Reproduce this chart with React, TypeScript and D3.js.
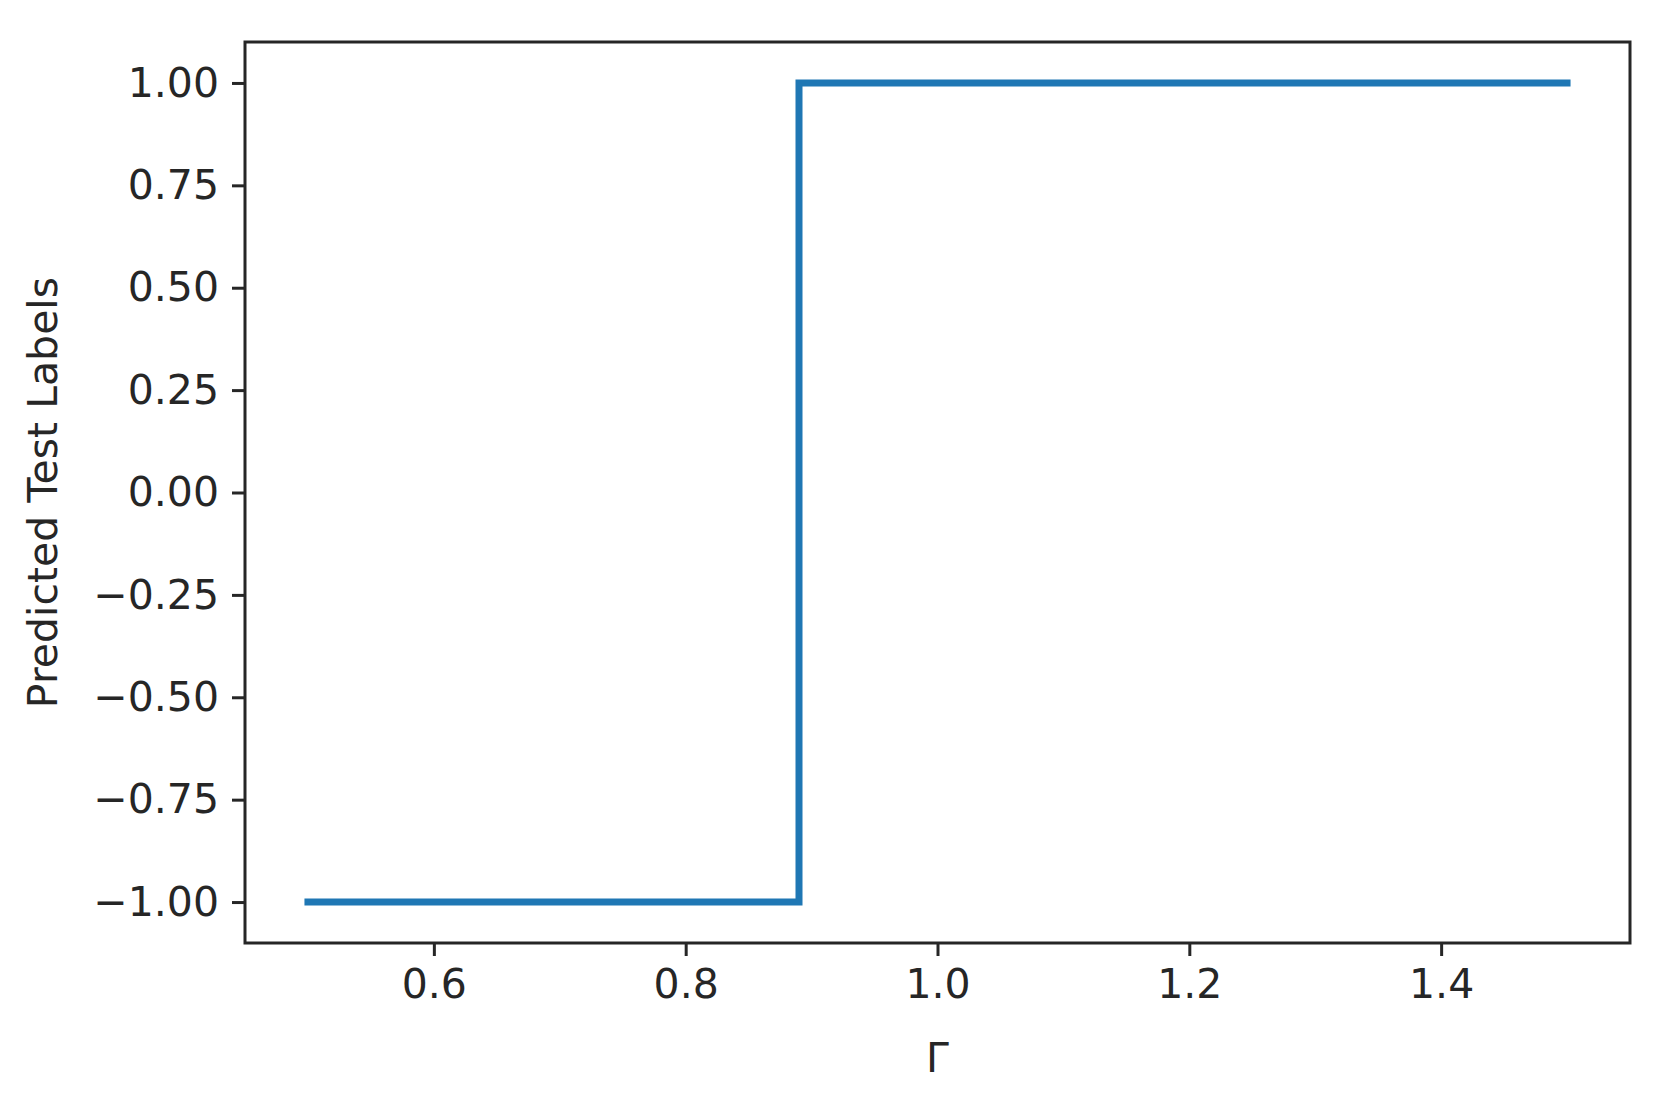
import React, { useEffect, useRef } from 'react';
import * as d3 from 'd3';

// Step: predicted label flips from -1 to 1 near gamma = 0.89
const gammaValues = [0.5, 0.89, 1.5];
const predictedLabels = [-1, 1, 1];

const xTicks = [0.6, 0.8, 1.0, 1.2, 1.4];
const yTicks = [-1, -0.75, -0.5, -0.25, 0, 0.25, 0.5, 0.75, 1];

const WIDTH = 1661;
const HEIGHT = 1097;

/**
 * App - predicted test labels against Γ, drawn as a step line
 */
const App: React.FC = () => {
  const svgRef = useRef<SVGSVGElement>(null);

  useEffect(() => {
    if (!svgRef.current) return;
    const svg = d3.select(svgRef.current);
    svg.selectAll('*').remove();

    const margin = { top: 42, right: 31, bottom: 154, left: 245 };
    const width = WIDTH - margin.left - margin.right;
    const height = HEIGHT - margin.top - margin.bottom;
    const font = 'DejaVu Sans, sans-serif';
    const ink = '#262626';

    const x = d3.scaleLinear().domain([0.45, 1.55]).range([0, width]);
    const y = d3.scaleLinear().domain([-1.1, 1.1]).range([height, 0]);

    const g = svg.append('g').attr('transform', `translate(${margin.left},${margin.top})`);

    // Data line
    const line = d3.line<number>()
      .x((_, i) => x(gammaValues[i]))
      .y(d => y(d))
      .curve(d3.curveStepAfter);

    g.append('path')
      .datum(predictedLabels)
      .attr('d', line)
      .attr('fill', 'none')
      .attr('stroke', '#1f77b4')
      .attr('stroke-width', 7)
      .attr('stroke-linecap', 'square')
      .attr('stroke-linejoin', 'miter');

    // X axis
    const xAxis = g.append('g')
      .attr('transform', `translate(0,${height})`)
      .call(d3.axisBottom(x).tickValues(xTicks).tickFormat(d3.format('.1f')).tickSize(13).tickPadding(13));
    xAxis.select('.domain').remove();

    // Y axis
    const yAxis = g.append('g')
      .call(d3.axisLeft(y).tickValues(yTicks).tickFormat(d3.format('.2f')).tickSize(13).tickPadding(13));
    yAxis.select('.domain').remove();

    [xAxis, yAxis].forEach(ax => {
      ax.selectAll('line').attr('stroke', ink).attr('stroke-width', 3);
      ax.selectAll('text')
        .attr('fill', ink)
        .style('font-family', font)
        .style('font-size', '41px');
    });

    // Frame
    g.append('rect')
      .attr('width', width)
      .attr('height', height)
      .attr('fill', 'none')
      .attr('stroke', ink)
      .attr('stroke-width', 3);

    // Axis labels
    svg.append('text')
      .attr('x', margin.left + width / 2)
      .attr('y', 1072)
      .attr('text-anchor', 'middle')
      .style('font-family', font)
      .style('font-size', '41px')
      .attr('fill', ink)
      .text('Γ');

    svg.append('text')
      .attr('transform', `translate(57,${margin.top + height / 2}) rotate(-90)`)
      .attr('text-anchor', 'middle')
      .style('font-family', font)
      .style('font-size', '41px')
      .attr('fill', ink)
      .text('Predicted Test Labels');
  }, []);

  return (
    <svg
      ref={svgRef}
      width={WIDTH}
      height={HEIGHT}
      style={{ position: 'absolute', left: 0, top: 0, background: '#fff' }}
    />
  );
};

export default App;
